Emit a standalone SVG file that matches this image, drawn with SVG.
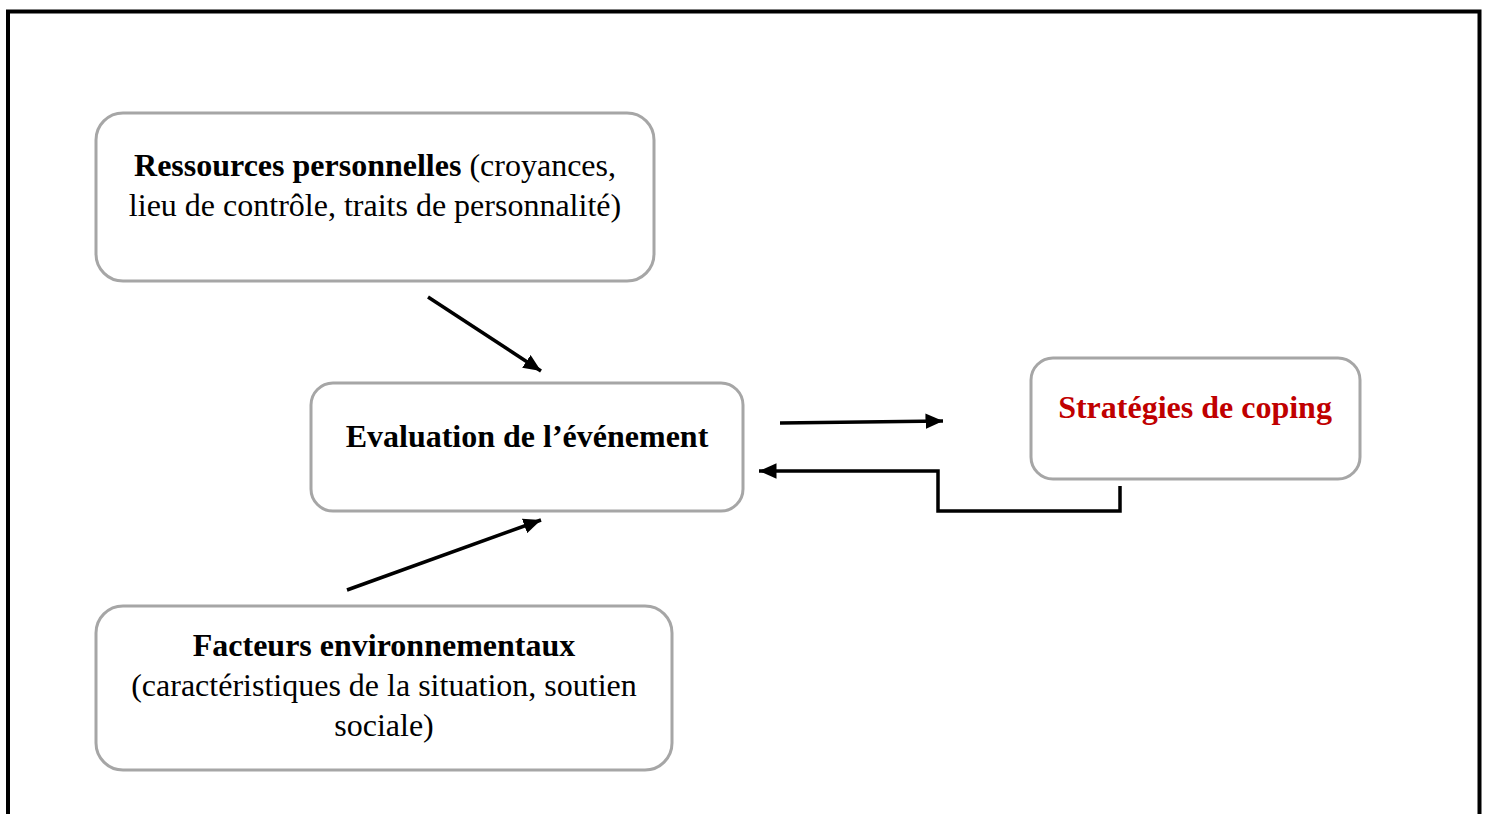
<svg xmlns="http://www.w3.org/2000/svg" width="1488" height="814" viewBox="0 0 1488 814">
<defs>
<style>
.box{fill:#fff;stroke:#a6a6a6;stroke-width:3}
.t{font-family:"Liberation Serif","Times New Roman",serif;font-size:32px;fill:#000;text-anchor:middle}
.b{font-weight:bold}
.red{fill:#c00000}
.c{fill:none;stroke:#000;stroke-width:3.5}
</style>
<marker id="ah" markerWidth="5" markerHeight="4.4" refX="5" refY="2.2" orient="auto" markerUnits="strokeWidth">
<path d="M0,0 L5,2.2 L0,4.4 z" fill="#000"/>
</marker>
</defs>
<rect x="0" y="0" width="1488" height="814" fill="#fff"/>
<path d="M8,830 V11.5 H1479.5 V830" fill="none" stroke="#000" stroke-width="4"/>
<g id="ressources">
<rect class="box" x="96" y="113" width="558" height="168" rx="27"/>
<text class="t" x="375" y="176"><tspan class="b">Ressources personnelles</tspan> (croyances,</text>
<text class="t" x="375" y="216">lieu de contrôle, traits de personnalité)</text>
</g>
<g id="evaluation">
<rect class="box" x="311" y="383" width="432" height="128" rx="22"/>
<text class="t b" x="527" y="447">Evaluation de l’événement</text>
</g>
<g id="strategies">
<rect class="box" x="1031" y="358" width="329" height="121" rx="22"/>
<text class="t b red" x="1195" y="418">Stratégies de coping</text>
</g>
<g id="facteurs">
<rect class="box" x="96" y="606" width="576" height="164" rx="27"/>
<text class="t b" x="384" y="656">Facteurs environnementaux</text>
<text class="t" x="384" y="696">(caractéristiques de la situation, soutien</text>
<text class="t" x="384" y="736">sociale)</text>
</g>
<g id="connectors">
<path class="c" d="M428,297 L541,371" marker-end="url(#ah)"/>
<path class="c" d="M347,590 L541,520" marker-end="url(#ah)"/>
<path class="c" d="M780,423 L943,421" marker-end="url(#ah)"/>
<path class="c" d="M1120,486 V511 H938 V471 H759" marker-end="url(#ah)"/>
</g>
</svg>
